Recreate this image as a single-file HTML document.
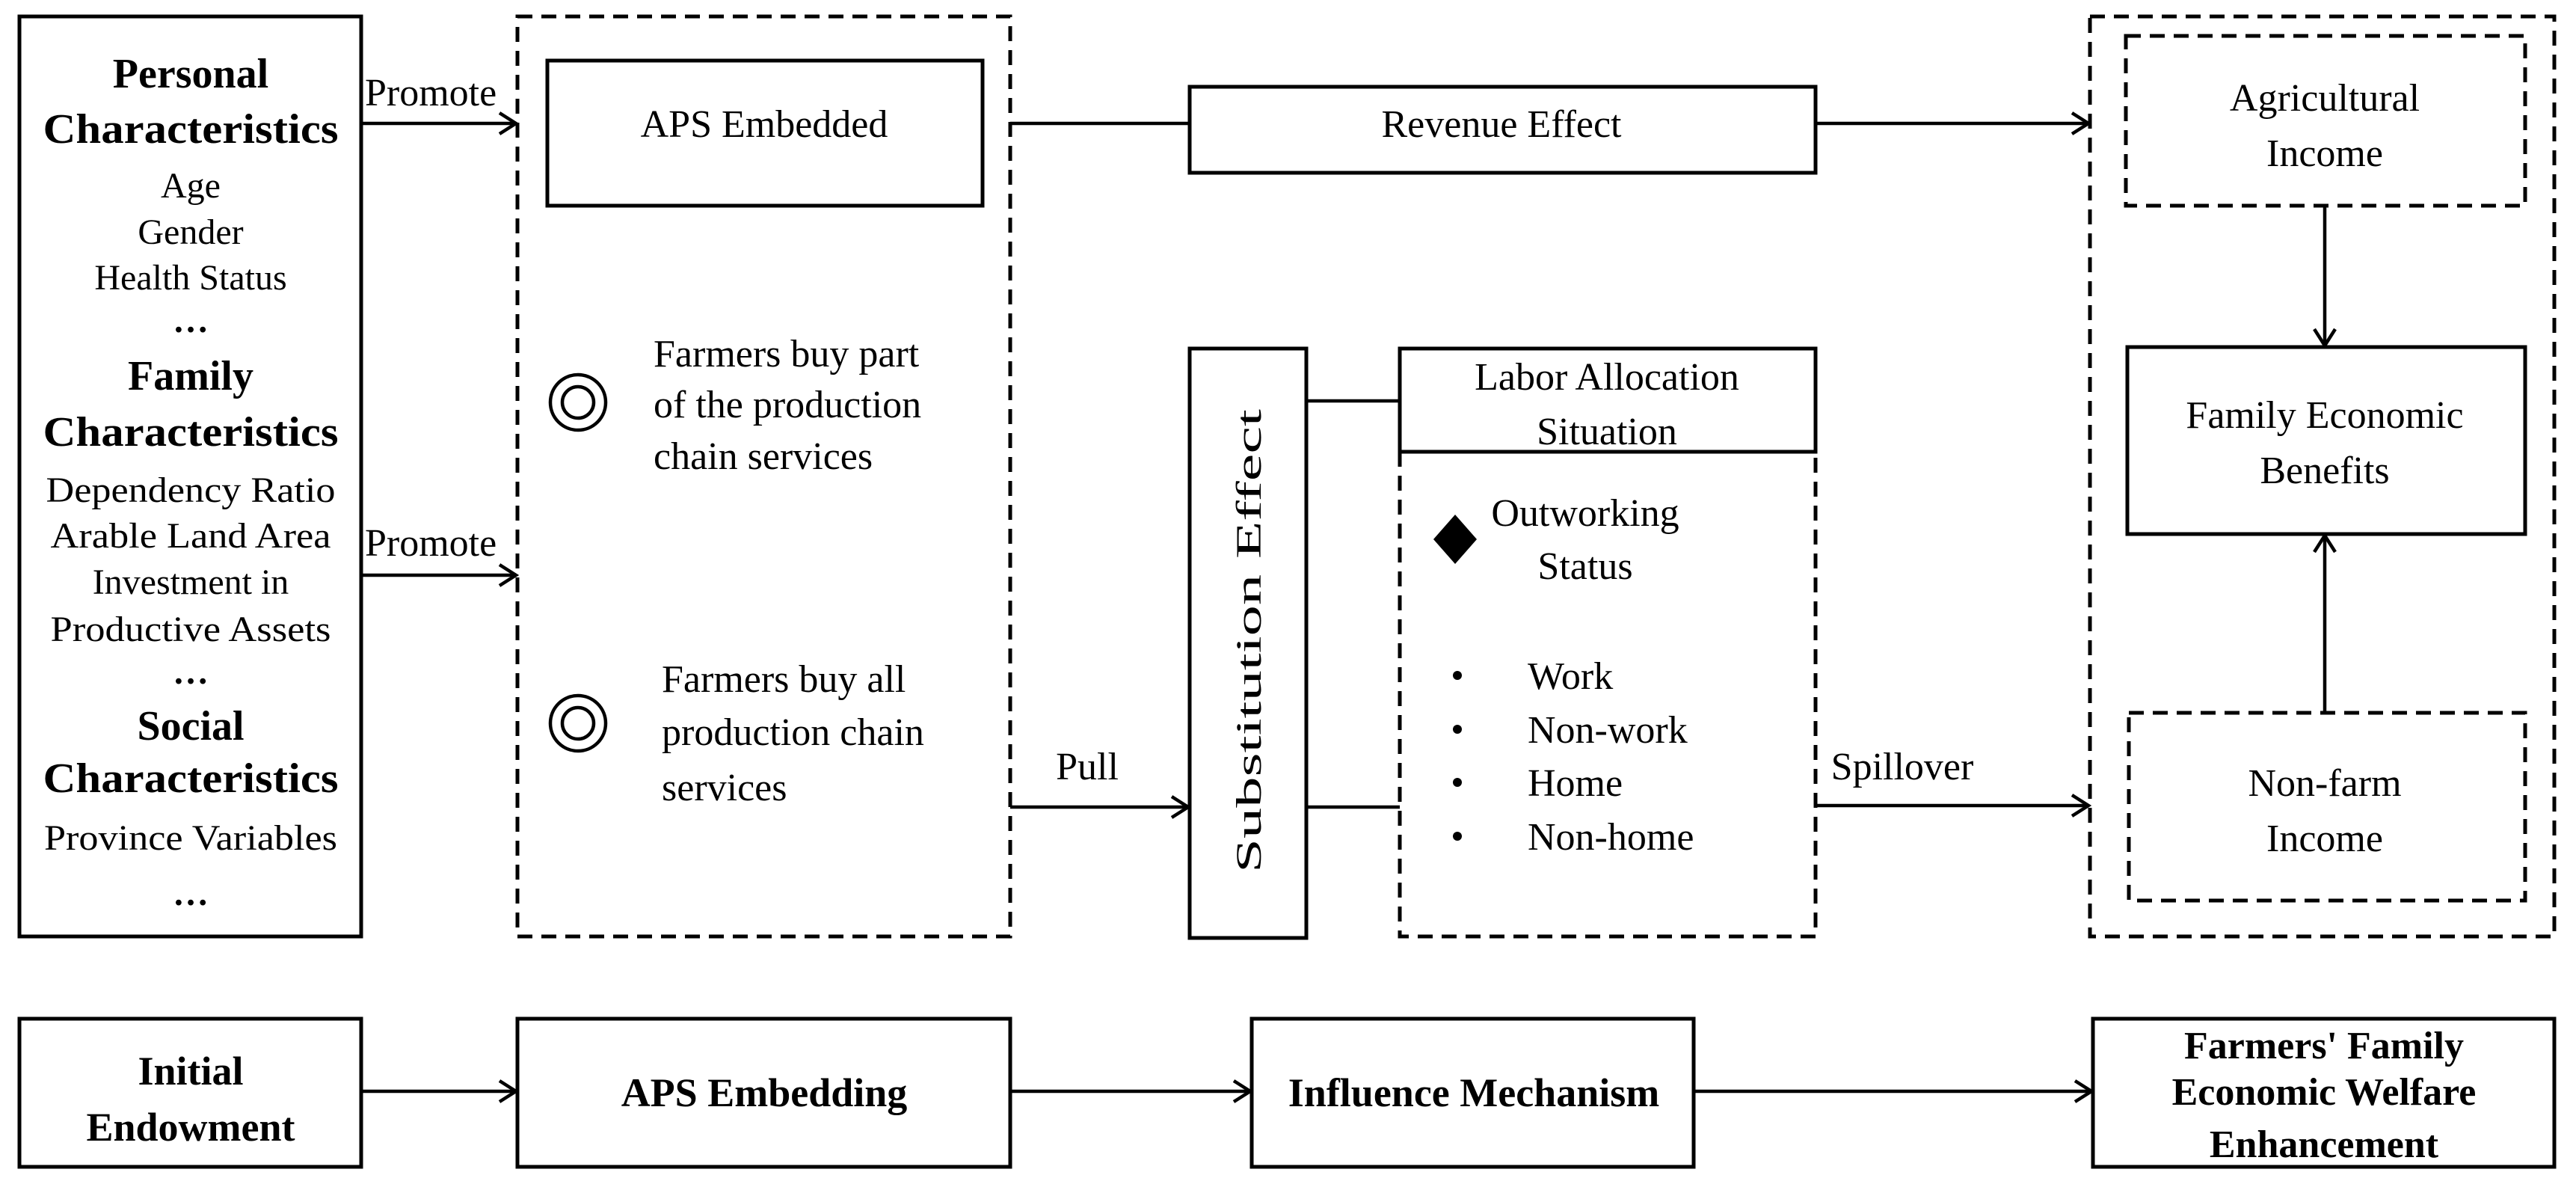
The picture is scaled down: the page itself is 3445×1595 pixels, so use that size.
<!DOCTYPE html>
<html><head><meta charset="utf-8"><style>
html,body{margin:0;padding:0;background:#fff;}
svg{display:block;}
text{font-family:"Liberation Serif",serif;fill:#000;}
.b{font-weight:bold;}
</style></head><body>
<svg width="3445" height="1595" viewBox="0 0 3445 1595" xmlns="http://www.w3.org/2000/svg">
<g fill="none" stroke="#000" stroke-width="5">
<rect x="26" y="22" width="457" height="1230"/>
<rect x="692" y="22" width="659" height="1230" stroke-dasharray="20,12"/>
<rect x="732" y="81" width="582" height="194"/>
<rect x="1591" y="116" width="837" height="115"/>
<rect x="2795" y="22" width="621" height="1230" stroke-dasharray="20,12"/>
<rect x="2843" y="48" width="534" height="227" stroke-dasharray="20,12"/>
<rect x="2845" y="464" width="532" height="250"/>
<rect x="2847" y="953" width="530" height="251" stroke-dasharray="20,12"/>
<rect x="1591" y="466" width="156" height="788"/>
<rect x="1872" y="466" width="556" height="138"/>
<path d="M1872,604 V1252 H2428 V604" stroke-dasharray="20,12"/>
<rect x="26" y="1362" width="457" height="198"/>
<rect x="692" y="1362" width="659" height="198"/>
<rect x="1674" y="1362" width="591" height="198"/>
<rect x="2799" y="1362" width="617" height="198"/>
</g>
<g fill="none" stroke="#000" stroke-width="4.5">
<line x1="483" y1="165" x2="690" y2="165"/><path d="M668,151 L690,165 L668,179"/>
<line x1="483" y1="769" x2="690" y2="769"/><path d="M668,755 L690,769 L668,783"/>
<line x1="1351" y1="165" x2="1591" y2="165"/>
<line x1="2428" y1="165" x2="2793" y2="165"/><path d="M2771,151 L2793,165 L2771,179"/>
<line x1="1351" y1="1079" x2="1589" y2="1079"/><path d="M1567,1065 L1589,1079 L1567,1093"/>
<line x1="1747" y1="536" x2="1872" y2="536"/>
<line x1="1747" y1="1079" x2="1872" y2="1079"/>
<line x1="2428" y1="1077" x2="2793" y2="1077"/><path d="M2771,1063 L2793,1077 L2771,1091"/>
<line x1="3109" y1="275" x2="3109" y2="462"/><path d="M3095,440 L3109,462 L3123,440"/>
<line x1="3109" y1="953" x2="3109" y2="716"/><path d="M3095,738 L3109,716 L3123,738"/>
<line x1="483" y1="1459" x2="690" y2="1459"/><path d="M668,1445 L690,1459 L668,1473"/>
<line x1="1351" y1="1459" x2="1672" y2="1459"/><path d="M1650,1445 L1672,1459 L1650,1473"/>
<line x1="2265" y1="1459" x2="2797" y2="1459"/><path d="M2775,1445 L2797,1459 L2775,1473"/>
<circle cx="773" cy="538" r="37"/><circle cx="773" cy="538" r="21"/>
<circle cx="773" cy="967" r="37"/><circle cx="773" cy="967" r="21"/>
</g>
<polygon points="1946,688 1975,721 1946,754 1917,721" fill="#000"/>
<g fill="#000"><circle cx="1949" cy="903" r="6"/><circle cx="1949" cy="975" r="6"/><circle cx="1949" cy="1046" r="6"/><circle cx="1949" cy="1118" r="6"/></g>

<g text-anchor="middle">
<text class="b" x="255" y="117" font-size="56">Personal</text>
<text class="b" x="255" y="191" font-size="56" textLength="395" lengthAdjust="spacingAndGlyphs">Characteristics</text>
<text x="255" y="264" font-size="48">Age</text>
<text x="255" y="326" font-size="48">Gender</text>
<text x="255" y="387" font-size="48">Health Status</text>
<text class="b" x="255" y="444" font-size="48">…</text>
<text class="b" x="255" y="521" font-size="56">Family</text>
<text class="b" x="255" y="596" font-size="56" textLength="395" lengthAdjust="spacingAndGlyphs">Characteristics</text>
<text x="255" y="671" font-size="48" textLength="387" lengthAdjust="spacingAndGlyphs">Dependency Ratio</text>
<text x="255" y="732" font-size="48" textLength="375" lengthAdjust="spacingAndGlyphs">Arable Land Area</text>
<text x="255" y="794" font-size="48">Investment in</text>
<text x="255" y="857" font-size="48" textLength="375" lengthAdjust="spacingAndGlyphs">Productive Assets</text>
<text class="b" x="255" y="914" font-size="48">…</text>
<text class="b" x="255" y="989" font-size="56">Social</text>
<text class="b" x="255" y="1059" font-size="56" textLength="395" lengthAdjust="spacingAndGlyphs">Characteristics</text>
<text x="255" y="1136" font-size="48" textLength="392" lengthAdjust="spacingAndGlyphs">Province Variables</text>
<text class="b" x="255" y="1210" font-size="48">…</text>

<text x="1022" y="183" font-size="52">APS Embedded</text>
<text x="2008" y="183" font-size="52">Revenue Effect</text>
<text x="3109" y="148" font-size="52">Agricultural</text>
<text x="3109" y="222" font-size="52">Income</text>
<text x="3109" y="572" font-size="52">Family Economic</text>
<text x="3109" y="646" font-size="52">Benefits</text>
<text x="3109" y="1064" font-size="52">Non-farm</text>
<text x="3109" y="1138" font-size="52">Income</text>
<text x="2149" y="521" font-size="52">Labor Allocation</text>
<text x="2149" y="594" font-size="52">Situation</text>
<text x="2120" y="703" font-size="52">Outworking</text>
<text x="2120" y="774" font-size="52">Status</text>
<text x="1454" y="1042" font-size="52">Pull</text>
<text x="2544" y="1042" font-size="52">Spillover</text>
<text x="1670" y="857" font-size="48" transform="rotate(-90 1670 857)" dy="16" textLength="620" lengthAdjust="spacingAndGlyphs">Substitution Effect</text>

<text class="b" x="255" y="1450" font-size="54">Initial</text>
<text class="b" x="255" y="1525" font-size="54">Endowment</text>
<text class="b" x="1022" y="1479" font-size="54">APS Embedding</text>
<text class="b" x="1971" y="1479" font-size="54">Influence Mechanism</text>
<text class="b" x="3108" y="1415" font-size="52">Farmers' Family</text>
<text class="b" x="3108" y="1477" font-size="52">Economic Welfare</text>
<text class="b" x="3108" y="1547" font-size="52">Enhancement</text>
</g>
<g font-size="52">
<text x="488" y="141">Promote</text>
<text x="488" y="743">Promote</text>
<text x="874" y="490">Farmers buy part</text>
<text x="874" y="558">of the production</text>
<text x="874" y="627">chain services</text>
<text x="885" y="925">Farmers buy all</text>
<text x="885" y="996">production chain</text>
<text x="885" y="1070">services</text>
<text x="2043" y="921">Work</text>
<text x="2043" y="993">Non-work</text>
<text x="2043" y="1064">Home</text>
<text x="2043" y="1136">Non-home</text>
</g>
</svg>
</body></html>
